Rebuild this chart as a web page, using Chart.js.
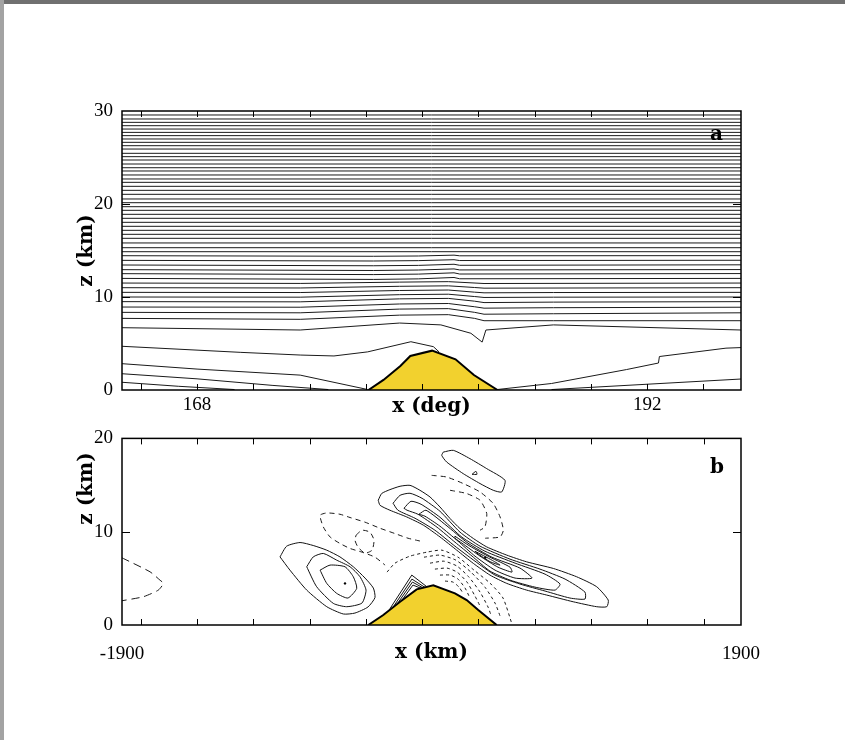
<!DOCTYPE html>
<html>
<head>
<meta charset="utf-8">
<script src="https://cdn.jsdelivr.net/npm/chart.js@4.4.1/dist/chart.umd.min.js"></script>
<style>
  html, body { margin: 0; padding: 0; background: #fff; }
  body { width: 845px; height: 740px; position: relative; overflow: hidden; }
  #edgeTop { position: absolute; left: 0; top: 0; width: 845px; height: 4px; background: #707070; z-index: 2; }
  #edgeLeft { position: absolute; left: 0; top: 0; width: 4px; height: 740px; background: #a3a3a3; z-index: 2; }
  #panelA { position: absolute; left: 0; top: 0; }
  #panelB { position: absolute; left: 0; top: 418px; }
</style>
</head>
<body>
<div id="edgeTop"></div><div id="edgeLeft"></div>
<canvas id="panelA" width="845" height="425"></canvas>
<canvas id="panelB" width="845" height="322"></canvas>
<script>
/* ── Panel a: isentropes, x in degrees, z in km ── */
const aTickLabels = [168, 192];
const aTickMarks = [165, 168, 171, 174, 177, 180, 183, 186, 189, 192, 195];
const aMountain = [[177.14, 0], [177.94, 1.08], [178.84, 2.58], [179.37, 3.66], [180.53, 4.23],
  [181.78, 3.3], [182.76, 1.61], [184.02, 0]];
// upper lines, flat across the domain
const aFlatLevels = [14.87, 15.3, 15.81, 16.31, 16.74, 17.17, 17.6, 18.03, 18.46, 18.89, 19.32, 19.71,
  20.14, 20.54, 21.04, 21.47, 21.9, 22.33, 22.69, 23.12, 23.55, 23.9, 24.3, 24.73, 25.09, 25.45,
  25.91, 26.27, 26.63, 26.99, 27.35, 27.7, 28.06, 28.42, 28.78, 29.14, 29.57];
// mid-level lines, slightly lifted over the ridge
const aWavyLines = [
  [[164, 14.44], [177.4, 14.38], [179.8, 14.41], [181.7, 14.5], [182, 14.43], [197, 14.45]],
  [[164, 13.94], [177.4, 13.87], [179.8, 13.91], [181.7, 14.01], [182, 13.92], [197, 13.95]],
  [[164, 13.44], [177.4, 13.36], [179.8, 13.4], [181.7, 13.52], [182, 13.41], [197, 13.46]],
  [[164, 12.94], [177.4, 12.85], [179.8, 12.9], [181.7, 13.02], [182, 12.91], [197, 12.95]],
  [[164, 12.51], [177.4, 12.41], [179.8, 12.46], [181.7, 12.6], [182, 12.47], [197, 12.52]],
  [[164, 12.0], [177.4, 11.89], [179.8, 11.95], [181.7, 12.1], [182, 11.96], [197, 12.0]],
  [[164, 11.5], [173.5, 11.46], [178.8, 11.6], [181.4, 11.65], [183.3, 11.45], [197, 11.5]],
  [[164, 11.0], [173.5, 10.97], [178.8, 11.15], [181.4, 11.2], [182.8, 11.02], [183.3, 10.95], [197, 11.0]],
  [[164, 10.5], [173.5, 10.48], [178.8, 10.7], [181.4, 10.75], [182.8, 10.52], [183.3, 10.45], [187, 10.48], [197, 10.5]],
  [[164, 10.0], [173.5, 9.98], [178.8, 10.25], [181.4, 10.3], [182.8, 10.05], [183.3, 9.95], [187, 9.98], [197, 10.0]],
  [[164, 9.5], [173.5, 9.48], [178.8, 9.8], [181.4, 9.85], [182.8, 9.55], [183.3, 9.4], [187, 9.45], [197, 9.5]],
  [[164, 8.92], [173.5, 8.9], [178.8, 9.25], [181.4, 9.3], [182.8, 8.95], [183.3, 8.8], [187, 8.85], [197, 8.9]],
  [[164, 8.35], [173.5, 8.3], [178.8, 8.7], [181.4, 8.75], [182.8, 8.35], [183.3, 8.15], [187, 8.2], [197, 8.3]],
  [[164, 7.7], [173.5, 7.6], [178.8, 8.05], [181.4, 8.1], [182.8, 7.7], [183.3, 7.45], [187, 7.45], [197, 7.45]],
  [[164, 6.7], [173.5, 6.45], [178.8, 7.2], [181, 7.0], [182.6, 6.1], [183.2, 5.15], [183.4, 6.45], [187, 7.0], [197, 6.45]]
];
// low lines that meet the ground or the ridge
const aLowLines = [
  [[164, 4.7], [170.3, 4.05], [173.5, 3.76], [175.3, 3.66], [177.1, 4.1], [179.4, 5.19], [180.6, 4.66], [180.9, 4.1]],
  [[164, 2.83], [168, 2.25], [173.5, 1.6], [177.1, 0.05]],
  [[164, 1.75], [168, 1.2], [172, 0.5], [175, 0.05]],
  [[164, 0.83], [167, 0.4], [170, 0.05]],
  [[184.0, 0.05], [186.9, 0.7], [190.9, 2.2], [192.6, 2.9], [192.65, 3.6], [196.2, 4.5], [197, 4.56]],
  [[186.9, 0.05], [197, 1.18]]
];

/* ── Panel b: vertical velocity contours, x in km, z in km ── */
const bTickLabels = [-1900, 1900];
const bTickMarks = [-1785, -1439, -1094, -748, -403, -58, 288, 633, 979, 1324, 1670];
const bMountain = [[-388, 0], [-296, 1.07], [-193, 2.49], [-91, 3.82], [11, 4.25], [144, 3.39],
  [216, 2.67], [287, 1.6], [400, 0]];
const bWestDashed = [[-1900, 7.2], [-1728, 5.7], [-1667, 4.81], [-1646, 4.46], [-1677, 3.74], [-1769, 3.03], [-1900, 2.6]];
const bWestCell = [
  [[-930, 7.3], [-889, 8.45], [-807, 8.84], [-726, 8.52], [-643, 8.02], [-562, 7.3], [-480, 6.24], [-408, 5.03],
   [-357, 3.96], [-347, 2.94], [-390, 1.93], [-470, 1.28], [-541, 1.18], [-643, 1.96], [-766, 3.74], [-869, 5.88], [-930, 7.3]],
  [[-766, 6.24], [-726, 7.3], [-664, 7.67], [-582, 6.95], [-500, 6.24], [-439, 5.17], [-402, 3.74], [-427, 2.35],
   [-521, 1.96], [-603, 2.32], [-705, 4.1], [-766, 6.24]],
  [[-684, 5.88], [-623, 6.42], [-531, 6.24], [-480, 5.17], [-459, 3.93], [-513, 2.89], [-582, 3.39], [-643, 4.46], [-684, 5.88]]
];
const bUpperCell = [
  [[72, 18.53], [134, 18.72], [236, 17.83], [339, 16.76], [451, 15.51], [431, 14.26], [379, 14.44], [298, 15.16],
   [195, 16.22], [93, 17.47], [63, 18.18], [72, 18.53]],
  [[249, 16.15], [273, 16.47], [279, 16.15], [249, 16.15]]
];
const bUpperDashed = [
  [[1, 16.04], [93, 15.86], [195, 15.16], [298, 14.26], [379, 13.02], [421, 11.58], [441, 10.16], [421, 9.44], [330, 9.3]],
  [[114, 14.44], [216, 14.09], [298, 13.37], [339, 11.95], [328, 10.51], [298, 10.16]]
];
const bBand = [
  [[-327, 13.37], [-306, 14.09], [-255, 14.51], [-193, 14.87], [-132, 14.97], [-71, 14.44], [-9, 13.72], [52, 12.65],
   [114, 11.41], [175, 10.34], [257, 9.27], [339, 8.37], [462, 7.49], [584, 6.77], [748, 6.06], [891, 5.17],
   [1014, 4.1], [1085, 2.67], [1076, 1.96], [1014, 1.96], [870, 2.49], [707, 3.21], [584, 3.74], [462, 4.46],
   [359, 5.35], [257, 6.6], [155, 8.02], [52, 9.44], [-50, 10.7], [-152, 11.58], [-255, 12.3], [-316, 12.83], [-327, 13.37]],
  [[-236, 13.05], [-193, 13.9], [-132, 14.12], [-58, 13.58], [52, 12.19], [175, 9.95], [298, 8.45], [482, 7.06],
   [666, 5.99], [820, 4.92], [942, 3.53], [942, 2.78], [850, 2.89], [697, 3.64], [543, 4.39], [390, 5.35],
   [267, 6.84], [144, 8.45], [21, 10.16], [-101, 11.44], [-206, 12.3], [-236, 13.05]],
  [[-169, 12.51], [-126, 13.26], [-64, 12.94], [52, 11.55], [187, 9.41], [328, 7.91], [513, 6.63], [697, 5.45],
   [789, 4.39], [758, 3.74], [635, 4.06], [482, 4.81], [359, 5.78], [249, 7.38], [144, 8.88], [34, 10.48],
   [-83, 11.87], [-150, 12.3], [-169, 12.51]],
  [[-77, 11.87], [-34, 12.3], [89, 10.7], [224, 8.77], [371, 7.27], [543, 6.1], [617, 5.03], [513, 5.03],
   [390, 5.88], [267, 7.38], [163, 8.98], [52, 10.59], [-40, 11.66], [-77, 11.87]],
  [[144, 9.52], [236, 8.45], [359, 7.27], [482, 6.2], [494, 5.67], [408, 6.2], [298, 7.38], [187, 8.77], [144, 9.3], [144, 9.52]],
  [[267, 7.91], [371, 6.95], [421, 6.42], [359, 6.79], [279, 7.7], [267, 7.91]]
];
const bDots = [[-531, 4.46], [330, 7.22]];
const bWindward = [
  [[-255, 1.75], [-121, 5.35], [-28, 4.09]],
  [[-230, 2.06], [-120, 4.92], [-40, 4.03]],
  [[-206, 2.37], [-117, 4.6], [-52, 3.98]],
  [[-181, 2.68], [-114, 4.28], [-64, 3.93]]
];
const bUpstreamDashed = [
  [[-71, 9.0], [-144, 9.3], [-224, 9.8], [-316, 10.37], [-408, 11.02], [-500, 11.52], [-562, 11.87], [-643, 12.01],
   [-684, 11.76], [-664, 10.51], [-623, 9.44], [-562, 8.74], [-500, 8.2], [-427, 7.81], [-347, 7.27], [-285, 6.42]],
  [[-463, 9.63], [-427, 10.16], [-378, 9.95], [-353, 9.09], [-365, 8.02], [-408, 7.7], [-451, 8.34], [-470, 9.09], [-463, 9.63]]
];
const bLeeDashed = [
  [[-273, 5.67], [-224, 6.63], [-132, 7.38], [-28, 7.81], [64, 8.02], [163, 7.27], [261, 5.88], [359, 4.49], [439, 2.89], [494, 0.1]],
  [[-46, 7.27], [52, 7.49], [150, 6.95], [242, 5.67], [328, 4.06], [390, 2.35], [421, 0.96]],
  [[-9, 6.63], [77, 6.84], [157, 6.31], [230, 5.13], [298, 3.53], [347, 1.93], [365, 1.07]],
  [[21, 5.99], [95, 6.1], [157, 5.67], [218, 4.6], [267, 3.1], [298, 2.03]],
  [[52, 5.35], [114, 5.35], [163, 4.92], [206, 3.96], [236, 2.89]],
  [[83, 4.71], [132, 4.6], [169, 4.06], [193, 3.42]]
];

/* ── helpers ── */
const YELLOW = '#f2d12e';
const tickFont = { family: '"Liberation Serif", "Times New Roman", serif', size: 19 };
const titleFont = { family: '"DejaVu Serif", serif', size: 20, weight: 'bold' };

function pts(arr) {
  return arr.map(p => ({ x: p[0], y: p[1] }));
}

function line(arr, extra) {
  return Object.assign({
    data: pts(arr), showLine: true, borderColor: '#1a1a1a', borderWidth: 1,
    pointRadius: 0, fill: false, tension: 0
  }, extra || {});
}

function mountain(arr) {
  return line(arr, { borderColor: '#000', borderWidth: 2, backgroundColor: YELLOW, fill: 'origin' });
}

// frame, inward tick marks and the panel letter
function framePlugin(xMarks, yMarks, letter, dx, dy) {
  return {
    id: 'frame',
    afterDatasetsDraw(chart) {
      const { ctx, chartArea: a } = chart;
      const sx = chart.scales.x, sy = chart.scales.y;
      ctx.save();
      ctx.strokeStyle = '#000';
      ctx.lineWidth = 1;
      ctx.beginPath();
      xMarks.forEach(v => {
        const px = Math.round(sx.getPixelForValue(v)) + 0.5;
        ctx.moveTo(px, a.top); ctx.lineTo(px, a.top + 6);
        ctx.moveTo(px, a.bottom); ctx.lineTo(px, a.bottom - 6);
      });
      yMarks.forEach(v => {
        const py = Math.round(sy.getPixelForValue(v)) + 0.5;
        ctx.moveTo(a.left, py); ctx.lineTo(a.left + 8, py);
        ctx.moveTo(a.right, py); ctx.lineTo(a.right - 8, py);
      });
      ctx.stroke();
      ctx.lineWidth = 1.5;
      ctx.strokeRect(a.left, a.top, a.right - a.left, a.bottom - a.top);
      ctx.fillStyle = '#000';
      ctx.font = 'bold 20px "DejaVu Serif"';
      ctx.textAlign = 'right';
      ctx.fillText(letter, a.right - dx, a.top + dy);
      ctx.restore();
    }
  };
}

function scales(o) {
  return {
    x: {
      type: 'linear', min: o.xMin, max: o.xMax,
      afterBuildTicks: s => { s.ticks = o.xLabels.map(v => ({ value: v })); },
      afterFit: s => { s.height = o.xHeight; },
      grid: { display: false, drawTicks: false }, border: { display: false },
      ticks: { color: '#000', font: tickFont, padding: o.xPad, maxRotation: 0, autoSkip: false, callback: v => String(v) },
      title: { display: true, text: o.xTitle, color: '#000', font: titleFont, padding: { top: 0, bottom: o.xTitlePad } }
    },
    y: {
      type: 'linear', min: 0, max: o.yMax,
      afterFit: s => { s.width = 122; },
      grid: { display: false, drawTicks: false }, border: { display: false },
      ticks: { stepSize: 10, color: '#000', font: tickFont, padding: 9, callback: v => String(v) },
      title: { display: true, text: o.yTitle, align: o.yAlign, color: '#000', font: titleFont, padding: { top: 75, bottom: 0 } }
    }
  };
}

const common = {
  responsive: false, animation: false,
  plugins: { legend: { display: false }, tooltip: { enabled: false } },
  elements: { point: { radius: 0 } }
};

/* ── Panel a ── */
const aDatasets = [mountain(aMountain)];
aLowLines.forEach(l => aDatasets.push(line(l)));
aWavyLines.forEach(l => aDatasets.push(line(l)));
aFlatLevels.forEach(z => aDatasets.push(line([[164, z], [197, z]])));

new Chart(document.getElementById('panelA'), {
  type: 'scatter',
  data: { datasets: aDatasets },
  options: Object.assign({}, common, {
    layout: { padding: { left: 0, top: 111, right: 104, bottom: 0 } },
    scales: scales({ xMin: 164, xMax: 197, xLabels: aTickLabels, xHeight: 35, xPad: 4, xTitle: 'x (deg)', xTitlePad: 6,
      yMax: 30, yAlign: 'center', yTitle: 'z (km)' })
  }),
  plugins: [framePlugin(aTickMarks, [10, 20], 'a', 18, 29)]
});

/* ── Panel b ── */
const solid = { tension: 0.2, borderColor: '#111' };
const bDatasets = [mountain(bMountain)];
bBand.forEach(l => bDatasets.push(line(l, solid)));
bUpperCell.forEach(l => bDatasets.push(line(l, solid)));
bWestCell.forEach(l => bDatasets.push(line(l, solid)));
bWindward.forEach(l => bDatasets.push(line(l, { borderColor: '#111' })));
bDatasets.push(line(bWestDashed, { tension: 0.2, borderDash: [8, 5] }));
bUpperDashed.forEach(l => bDatasets.push(line(l, { tension: 0.2, borderDash: [5, 4] })));
bUpstreamDashed.forEach(l => bDatasets.push(line(l, { tension: 0.2, borderDash: [5, 4] })));
bLeeDashed.forEach(l => bDatasets.push(line(l, { tension: 0.2, borderDash: [3, 3] })));
bDatasets.push({ data: pts(bDots), showLine: false, pointRadius: 1.2, pointBackgroundColor: '#000', pointBorderWidth: 0 });

new Chart(document.getElementById('panelB'), {
  type: 'scatter',
  data: { datasets: bDatasets },
  options: Object.assign({}, common, {
    layout: { padding: { left: 0, top: 20, right: 104, bottom: 65 } },
    scales: scales({ xMin: -1900, xMax: 1900, xLabels: bTickLabels, xHeight: 50, xPad: 18, xTitle: 'x (km)', xTitlePad: 10,
      yMax: 20, yAlign: 'end', yTitle: 'z (km)\u2002\u2009' })
  }),
  plugins: [framePlugin(bTickMarks, [10], 'b', 17, 35)]
});
</script>
</body>
</html>
